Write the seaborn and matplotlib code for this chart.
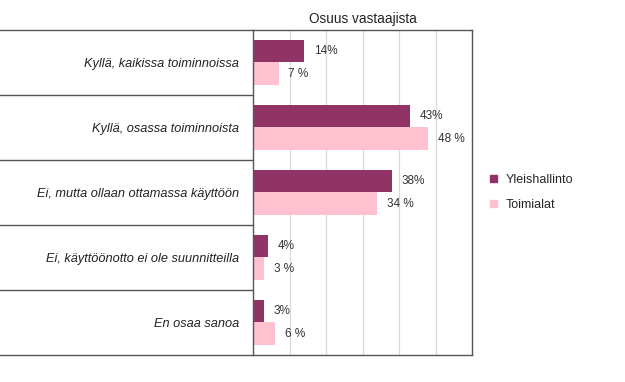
import numpy as np
import pandas as pd
import seaborn as sns
import matplotlib.pyplot as plt
from matplotlib.patches import Patch

# answers, shares in percent
categories = ["Kyllä, kaikissa toiminnoissa",
              "Kyllä, osassa toiminnoista",
              "Ei, mutta ollaan ottamassa käyttöön",
              "Ei, käyttöönotto ei ole suunnitteilla",
              "En osaa sanoa"]
groups = ["Yleishallinto", "Toimialat"]
yleishallinto = [14, 43, 38, 4, 3]
toimialat = [7, 48, 34, 3, 6]

df = pd.DataFrame({
    "Vastaus": categories * 2,
    "Ryhmä": [groups[0]] * len(categories) + [groups[1]] * len(categories),
    "Osuus": yleishallinto + toimialat,
})

dark = "#923366"
light = "#FFC0CF"
edge = "#555555"

sns.set_style("white")
plt.rcParams["font.family"] = ["Liberation Sans", "DejaVu Sans"]

fig = plt.figure(figsize=(6.25, 3.82), dpi=100)
ax = fig.add_axes([0.4048, 0.0707, 0.3504, 0.8508])

sns.barplot(data=df, y="Vastaus", x="Osuus", hue="Ryhmä", order=categories,
            hue_order=groups, palette=[dark, light], width=0.68, gap=0,
            saturation=1, orient="h", ax=ax, legend=False, linewidth=0)

ax.set_xlim(0, 60)
ax.set_ylim(len(categories) - 0.5, -0.5)
ax.set_xticks([10, 20, 30, 40, 50])
ax.set_xticklabels([])
ax.tick_params(axis="both", length=0)
ax.grid(axis="x", color="#d9d9d9", linewidth=0.9)
ax.set_axisbelow(True)
ax.set_xlabel("")
ax.set_ylabel("")
ax.set_yticks(range(len(categories)))
ax.set_yticklabels(categories, fontstyle="italic", fontsize=9.2, color="#222222")
ax.tick_params(axis="y", pad=10)
for s in ax.spines.values():
    s.set_color(edge)
    s.set_linewidth(1.0)

ax.set_title("Osuus vastaajista", fontsize=9.8, pad=5, color="#222222")

# value labels
ax.bar_label(ax.containers[0], fmt="%d%%", padding=7, fontsize=8.5, color="#333333")
ax.bar_label(ax.containers[1], fmt="%d %%", padding=7, fontsize=8.5, color="#333333")

# horizontal separator lines left of the axes
for b in np.arange(-0.5, len(categories), 1.0):
    ax.axhline(b, xmin=-1.16, xmax=0, color=edge, linewidth=1.0, clip_on=False)

handles = [Patch(color=dark), Patch(color=light)]
ax.legend(handles, groups, loc="center left", bbox_to_anchor=(1.03, 0.5),
          frameon=False, handlelength=0.55, handleheight=0.55, handletextpad=0.75,
          labelspacing=1.05, fontsize=9)

fig.savefig("out.png", dpi=100)
